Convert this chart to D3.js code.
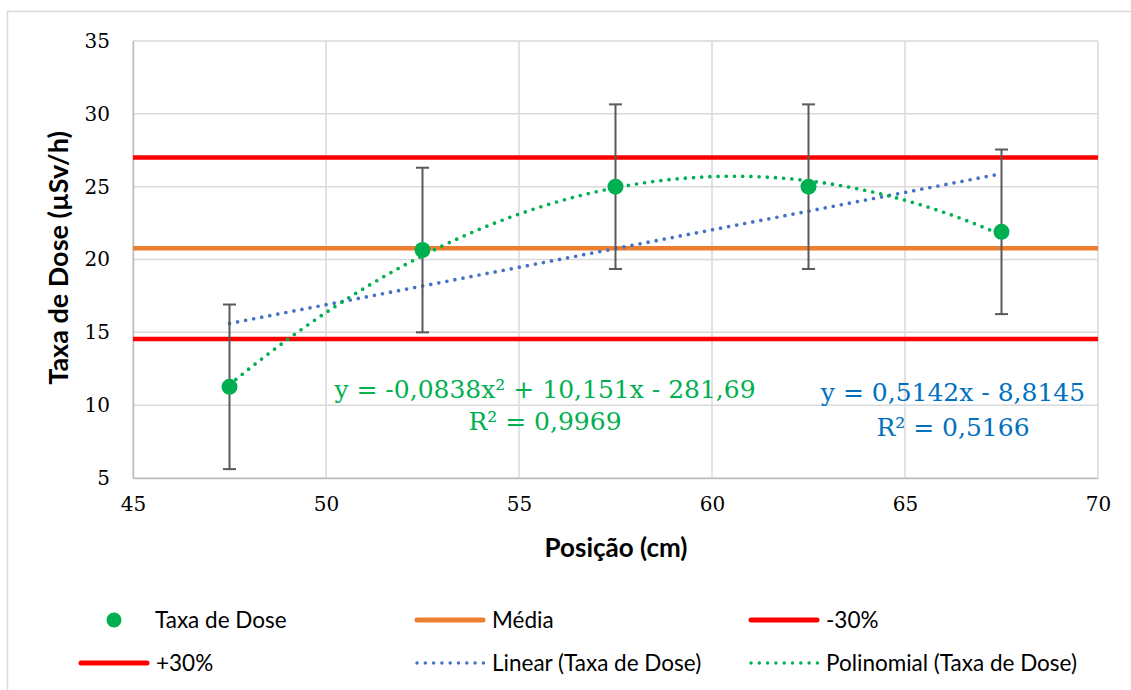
<!DOCTYPE html>
<html>
<head>
<meta charset="utf-8">
<script src="https://cdn.jsdelivr.net/npm/d3@7"></script>
<style>
  body { margin: 0; background: #fff; }
  svg text { fill: #000; }
  .tick text { font-family: 'DejaVu Serif', 'Liberation Serif', serif; font-size: 20px; }
</style>
</head>
<body>
<div id="chart"></div>
<script>
// data
const posicao = [47.5, 52.5, 57.5, 62.5, 67.5];
const taxaDose = [11.26, 20.65, 25.0, 25.0, 21.9];
const erro = [5.65, 5.65, 5.65, 5.65, 5.65];
const media = 20.77;
const mais30 = 27.0;
const menos30 = 14.54;

// trendline coefficients as shown in the labels
const linearCoef = [-8.8145, 0.5142];            // a0 + a1 x
const polyCoef = [-281.69, 10.151, -0.0838];     // a0 + a1 x + a2 x^2
const linearLabel = ['y = 0,5142x - 8,8145', 'R² = 0,5166'];
const polyLabel = ['y = -0,0838x² + 10,151x - 281,69', 'R² = 0,9969'];

const xTicks = [45, 50, 55, 60, 65, 70];
const yTicks = [5, 10, 15, 20, 25, 30, 35];

const width = 1131, height = 690;
const plot = {left: 133, right: 1098, top: 41, bottom: 478};

const serif = "'DejaVu Serif', 'Liberation Serif', serif";
const sans = "Lato, 'Open Sans', sans-serif";

const svg = d3.select('#chart')
  .append('svg')
  .attr('width', width)
  .attr('height', height);

// outer chart border
svg.append('rect')
  .attr('x', 7.5).attr('y', 11.5)
  .attr('width', width)
  .attr('height', height)
  .attr('fill', 'none')
  .attr('stroke', '#d9d9d9')
  .attr('stroke-width', 1.5);

const x = d3.scaleLinear().domain([45, 70]).range([plot.left, plot.right]);
const y = d3.scaleLinear().domain([5, 35]).range([plot.bottom, plot.top]);

// gridlines
svg.append('g')
  .selectAll('line.vgrid')
  .data(xTicks)
  .enter()
  .append('line')
  .attr('x1', d => x(d)).attr('x2', d => x(d))
  .attr('y1', plot.top).attr('y2', plot.bottom)
  .attr('stroke', '#d9d9d9')
  .attr('stroke-width', 1.5);

svg.append('g')
  .selectAll('line.hgrid')
  .data(yTicks)
  .enter()
  .append('line')
  .attr('x1', plot.left).attr('x2', plot.right)
  .attr('y1', d => y(d)).attr('y2', d => y(d))
  .attr('stroke', '#d9d9d9')
  .attr('stroke-width', 1.5);

// axes
const xAxis = svg.append('g')
  .attr('transform', `translate(0,${plot.bottom})`)
  .call(d3.axisBottom(x).tickValues(xTicks).tickSize(0).tickPadding(19));
const yAxis = svg.append('g')
  .attr('transform', `translate(${plot.left},0)`)
  .call(d3.axisLeft(y).tickValues(yTicks).tickSize(0).tickPadding(23));
[xAxis, yAxis].forEach(g => {
  g.attr('font-family', serif).attr('font-size', 20);
  g.select('.domain').attr('stroke', '#bfbfbf').attr('stroke-width', 1.5);
  g.selectAll('text')
    .attr('font-family', serif)
    .attr('fill', '#000');
});

// horizontal reference lines
const refLines = [
  {v: media, color: '#ed7d31'},
  {v: mais30, color: '#ff0000'},
  {v: menos30, color: '#ff0000'}
];
svg.append('g')
  .selectAll('line')
  .data(refLines)
  .enter()
  .append('line')
  .attr('x1', plot.left).attr('x2', plot.right)
  .attr('y1', d => y(d.v)).attr('y2', d => y(d.v))
  .attr('stroke', d => d.color)
  .attr('stroke-width', 4.5);

// trendlines
const xs = d3.range(posicao[0], posicao[posicao.length - 1] + 0.001, 0.1);
const evalPoly = (c, v) => c.reduce((s, a, i) => s + a * Math.pow(v, i), 0);
const line = d3.line().x(d => x(d[0])).y(d => y(d[1]));

svg.append('path')
  .datum(xs.map(v => [v, evalPoly(linearCoef, v)]))
  .attr('d', line)
  .attr('fill', 'none')
  .attr('stroke', '#4472c4')
  .attr('stroke-width', 3.7)
  .attr('stroke-linecap', 'round')
  .attr('stroke-dasharray', '0 8.2');

svg.append('path')
  .datum(xs.map(v => [v, evalPoly(polyCoef, v)]))
  .attr('d', line)
  .attr('fill', 'none')
  .attr('stroke', '#00b050')
  .attr('stroke-width', 3.7)
  .attr('stroke-linecap', 'round')
  .attr('stroke-dasharray', '0 8.2');

// error bars
const pts = posicao.map((p, i) => ({x: p, y: taxaDose[i], e: erro[i]}));
const eb = svg.append('g')
  .selectAll('g')
  .data(pts)
  .enter()
  .append('g')
  .attr('stroke', '#595959')
  .attr('stroke-width', 2);
eb.append('line')
  .attr('x1', d => x(d.x)).attr('x2', d => x(d.x))
  .attr('y1', d => y(d.y - d.e)).attr('y2', d => y(d.y + d.e));
eb.append('line')
  .attr('x1', d => x(d.x) - 6.5).attr('x2', d => x(d.x) + 6.5)
  .attr('y1', d => y(d.y + d.e)).attr('y2', d => y(d.y + d.e));
eb.append('line')
  .attr('x1', d => x(d.x) - 6.5).attr('x2', d => x(d.x) + 6.5)
  .attr('y1', d => y(d.y - d.e)).attr('y2', d => y(d.y - d.e));

// markers
svg.append('g')
  .selectAll('circle')
  .data(pts)
  .enter()
  .append('circle')
  .attr('cx', d => x(d.x))
  .attr('cy', d => y(d.y))
  .attr('r', 8)
  .attr('fill', '#00b050');

// trendline equations
function equation(lines, cx, cy, gap, color) {
  svg.append('g')
    .selectAll('text')
    .data(lines)
    .enter()
    .append('text')
    .attr('x', cx)
    .attr('y', (d, i) => cy + i * gap)
    .attr('text-anchor', 'middle')
    .style('font-family', serif)
    .style('font-size', '25px')
    .style('fill', color)
    .text(d => d);
}
equation(polyLabel, 545, 398, 32, '#00b050');
equation(linearLabel, 953, 401, 35, '#0070c0');

// axis titles
svg.append('text')
  .attr('x', 616)
  .attr('y', 557)
  .attr('text-anchor', 'middle')
  .style('font-family', sans)
  .style('font-weight', 'bold')
  .style('font-size', '26px')
  .text('Posição (cm)');

svg.append('text')
  .attr('transform', `translate(68,258) rotate(-90)`)
  .attr('text-anchor', 'middle')
  .style('font-family', sans)
  .style('font-weight', 'bold')
  .style('font-size', '27px')
  .text('Taxa de Dose (µSv/h)');

// legend
const legendItems = [
  {label: 'Taxa de Dose', type: 'dot', color: '#00b050', x: 79, y: 620},
  {label: 'Média', type: 'line', color: '#ed7d31', x: 415, y: 620},
  {label: '-30%', type: 'line', color: '#ff0000', x: 749, y: 620},
  {label: '+30%', type: 'line', color: '#ff0000', x: 79, y: 663},
  {label: 'Linear (Taxa de Dose)', type: 'dots', color: '#4472c4', x: 415, y: 663},
  {label: 'Polinomial (Taxa de Dose)', type: 'dots', color: '#00b050', x: 749, y: 663}
];
const lg = svg.append('g')
  .selectAll('g')
  .data(legendItems)
  .enter()
  .append('g')
  .attr('transform', d => `translate(${d.x},${d.y})`);
lg.each(function(d) {
  const g = d3.select(this);
  if (d.type === 'dot') {
    g.append('circle').attr('cx', 35).attr('cy', 0).attr('r', 7.5).attr('fill', d.color);
  } else if (d.type === 'line') {
    g.append('line')
      .attr('x1', 2).attr('x2', 68).attr('y1', 0).attr('y2', 0)
      .attr('stroke', d.color).attr('stroke-width', 5).attr('stroke-linecap', 'round');
  } else {
    g.append('line')
      .attr('x1', 2).attr('x2', 69).attr('y1', 0).attr('y2', 0)
      .attr('stroke', d.color).attr('stroke-width', 3.5).attr('stroke-linecap', 'round')
      .attr('stroke-dasharray', '0 8.3');
  }
  g.append('text')
    .attr('x', d.type === 'dot' ? 76 : 77)
    .attr('y', 8)
    .style('font-family', sans)
    .style('font-size', '22.5px')
    .text(d.label);
});
</script>
</body>
</html>
